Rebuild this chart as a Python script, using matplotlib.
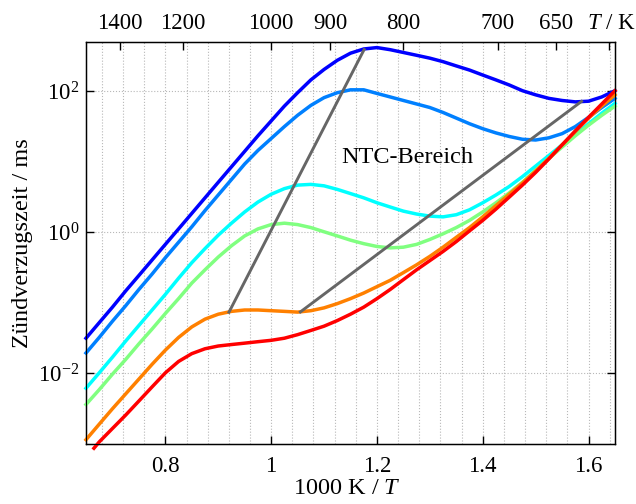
import matplotlib
matplotlib.use("Agg")
import matplotlib.pyplot as plt
from matplotlib.ticker import MultipleLocator, NullLocator

plt.rcParams['font.family'] = 'Liberation Serif'
plt.rcParams['mathtext.fontset'] = 'custom'
plt.rcParams['mathtext.rm'] = 'Liberation Serif'
plt.rcParams['mathtext.it'] = 'Liberation Serif:italic'

# 1000 K / T sampling points
inv_T = [0.650, 0.675, 0.700, 0.725, 0.750, 0.775, 0.800, 0.825, 0.850, 0.875,
         0.900, 0.925, 0.950, 0.975, 1.000, 1.025, 1.050, 1.075, 1.100, 1.125,
         1.150, 1.175, 1.200, 1.225, 1.250, 1.275, 1.300, 1.325, 1.350, 1.375,
         1.400, 1.425, 1.450, 1.475, 1.500, 1.525, 1.550, 1.575, 1.600, 1.625,
         1.650]
inv_T_red = [0.665] + inv_T[1:]

# ignition delay times in ms
tau_1 = [0.0316, 0.0525, 0.0871, 0.148, 0.245, 0.407, 0.676, 1.12, 1.86, 3.09,
         5.13, 8.51, 14.1, 23.4, 38.0, 61.7, 95.5, 145, 204, 275,
         347, 398, 417, 389, 355, 324, 295, 263, 229, 200,
         170, 145, 123, 102, 89.1, 79.4, 74.1, 70.8, 72.4, 83.2,
         102]
tau_2 = [0.0195, 0.0324, 0.0550, 0.0912, 0.155, 0.257, 0.437, 0.724, 1.20, 2.04,
         3.39, 5.62, 9.33, 14.5, 21.4, 31.6, 45.7, 63.1, 81.3, 95.5,
         105, 105, 93.3, 83.2, 74.1, 66.1, 58.9, 50.1, 41.7, 34.7,
         29.5, 25.7, 22.9, 20.9, 20.4, 21.9, 25.1, 31.6, 42.7, 58.9,
         79.4]
tau_3 = [0.00617, 0.0102, 0.0170, 0.0288, 0.0479, 0.0794, 0.132, 0.224, 0.372, 0.589,
         0.912, 1.35, 1.95, 2.69, 3.47, 4.17, 4.68, 4.79, 4.57, 4.07,
         3.55, 3.09, 2.63, 2.29, 2.00, 1.82, 1.70, 1.66, 1.78, 2.09,
         2.63, 3.39, 4.47, 6.17, 8.71, 12.3, 17.4, 24.5, 34.7, 49.0,
         67.6]
tau_4 = [0.00363, 0.00589, 0.00977, 0.0158, 0.0263, 0.0427, 0.0708, 0.115, 0.191, 0.295,
         0.447, 0.646, 0.891, 1.12, 1.29, 1.35, 1.29, 1.17, 1.02, 0.891,
         0.776, 0.692, 0.631, 0.603, 0.617, 0.676, 0.794, 0.955, 1.17, 1.48,
         1.95, 2.63, 3.63, 5.13, 7.59, 11.2, 16.2, 23.4, 33.1, 45.7,
         61.7]
tau_5 = [0.00115, 0.00191, 0.00316, 0.00513, 0.00832, 0.0135, 0.0214, 0.0324, 0.0457, 0.0589,
         0.0692, 0.0759, 0.0794, 0.0794, 0.0776, 0.0759, 0.0741, 0.0776, 0.0851, 0.0977,
         0.115, 0.138, 0.170, 0.209, 0.269, 0.347, 0.457, 0.617, 0.851, 1.17,
         1.66, 2.40, 3.47, 5.01, 7.41, 11.2, 17.4, 26.9, 41.7, 61.7,
         89.1]
tau_6 = [0.000871, 0.00107, 0.00166, 0.00257, 0.00407, 0.00646, 0.0102, 0.0148, 0.0191, 0.0224,
         0.0245, 0.0257, 0.0269, 0.0282, 0.0295, 0.0316, 0.0355, 0.0407, 0.0468, 0.0562,
         0.0692, 0.0871, 0.115, 0.155, 0.214, 0.295, 0.398, 0.537, 0.741, 1.05,
         1.48, 2.14, 3.16, 4.68, 7.08, 11.0, 17.4, 27.5, 42.7, 66.1,
         102]

# boundaries of the NTC region
ntc_low_x = [0.919, 1.177]
ntc_low_y = [0.0708, 407]
ntc_high_x = [1.053, 1.589]
ntc_high_y = [0.0724, 74.1]

# temperature axis on top
temps = [1400, 1200, 1000, 900, 800, 700, 650, 610]
temp_labels = ['1400', '1200', '1000', '900', '800', '700', '650', '']

colors = ['#0000ff', '#0080ff', '#00ffff', '#80ff80', '#ff8000', '#ff0000']

fig = plt.figure(figsize=(6.36, 5.04), dpi=100)
ax = fig.add_axes([86 / 636, 60 / 504, 529 / 636, 402 / 504])

series = [(inv_T, tau_1), (inv_T, tau_2), (inv_T, tau_3),
          (inv_T, tau_4), (inv_T, tau_5), (inv_T_red, tau_6)]
for (x, y), c in zip(series, colors):
    ax.plot(x, y, color=c, lw=2.5, clip_on=False, zorder=3)

for x, y in [(ntc_low_x, ntc_low_y), (ntc_high_x, ntc_high_y)]:
    ax.plot(x, y, color='#666666', lw=2.1, zorder=4, solid_capstyle='butt')

ax.text(1.257, 11.5, 'NTC-Bereich', fontsize=17.5, ha='center', va='center')

ax.set_yscale('log')
ax.set_xlim(0.65, 1.65)
ax.set_ylim(1e-3, 5e2)

ax.set_xticks([0.8, 1.0, 1.2, 1.4, 1.6])
ax.set_xticklabels(['0.8', '1', '1.2', '1.4', '1.6'])
ax.xaxis.set_minor_locator(MultipleLocator(0.04))
ax.set_yticks([1e-2, 1e0, 1e2])
ax.set_yticklabels([r'$10^{-2}$', r'$10^{0}$', r'$10^{2}$'])
ax.yaxis.set_minor_locator(NullLocator())

ax.grid(which='both', axis='x', ls=':', color='#b8b8b8', lw=0.8)
ax.grid(which='major', axis='y', ls=':', color='#b8b8b8', lw=0.8)
ax.set_axisbelow(True)

ax.tick_params(which='major', direction='in', length=6, width=1,
               top=False, right=True, labelsize=16.5)
ax.tick_params(axis='x', pad=9)
ax.tick_params(axis='y', pad=5)
ax.tick_params(which='minor', length=0)
for s in ax.spines.values():
    s.set_linewidth(1.0)

ax.set_xlabel('1000 K / $T$', fontsize=17.5)
ax.set_ylabel('Zündverzugszeit / ms', fontsize=17.5)
ax.xaxis.set_label_coords(0.493, -0.085)
ax.yaxis.set_label_coords(-0.1, 0.5)

# reciprocal temperature ticks along the top edge
ax2 = ax.twiny()
ax2.set_xlim(ax.get_xlim())
ax2.set_xticks([1000 / t for t in temps])
ax2.set_xticklabels(temp_labels)
ax2.xaxis.set_minor_locator(NullLocator())
ax2.tick_params(direction='in', length=6, width=1, labelsize=16.5, pad=6)
fig.text(611 / 636, (462 + 8.3) / 504, '$T$ / K', fontsize=16.5,
         ha='center', va='bottom')

fig.savefig('out.png', dpi=100)
